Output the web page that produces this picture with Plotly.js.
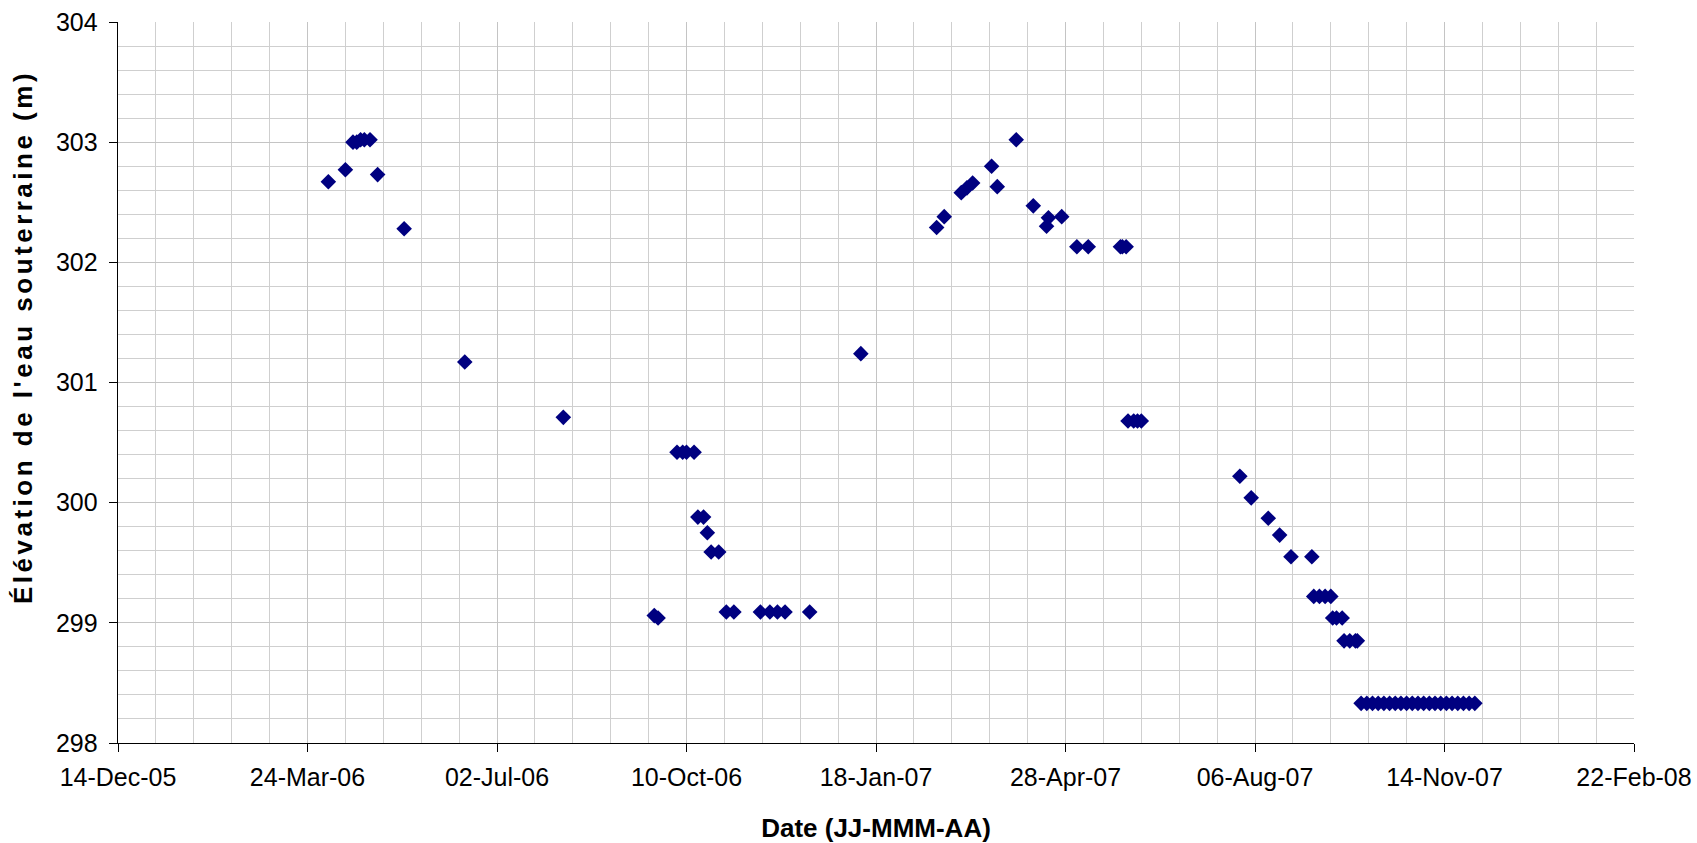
<!DOCTYPE html>
<html>
<head>
<meta charset="utf-8">
<script src="https://cdn.plot.ly/plotly-3.0.1.min.js"></script>
<style>
html,body{margin:0;padding:0;background:#fff;}
#chart{width:1697px;height:843px;}
.annotation-text{letter-spacing:3.5px;}
</style>
</head>
<body>
<div id="chart"></div>
<script>
// Measurement dates (groundwater level readings)
const dates2006 = [
  '2006-04-04','2006-04-13','2006-04-17','2006-04-19','2006-04-21','2006-04-23','2006-04-26',
  '2006-04-30','2006-05-14','2006-06-15','2006-08-06',
  '2006-09-23','2006-09-25','2006-10-05','2006-10-08','2006-10-10','2006-10-14',
  '2006-10-16','2006-10-19','2006-10-21','2006-10-23','2006-10-27',
  '2006-10-31','2006-11-04','2006-11-18','2006-11-23','2006-11-27','2006-12-01','2006-12-14'
];
const levels2006 = [
  302.67,302.77,303.00,303.00,303.02,303.02,303.02,
  302.73,302.28,301.17,300.71,
  299.06,299.04,300.42,300.42,300.42,300.42,
  299.88,299.88,299.75,299.59,299.59,
  299.09,299.09,299.09,299.09,299.09,299.09,299.09
];
const dates2007 = [
  '2007-01-10',
  '2007-02-19','2007-02-23','2007-03-04','2007-03-07','2007-03-10','2007-03-20','2007-03-23',
  '2007-04-02','2007-04-11','2007-04-18','2007-04-19','2007-04-26',
  '2007-05-04','2007-05-10','2007-05-27','2007-05-28','2007-05-30',
  '2007-05-31','2007-06-03','2007-06-05','2007-06-07',
  '2007-07-29','2007-08-04','2007-08-13','2007-08-19','2007-08-25','2007-09-05',
  '2007-09-06','2007-09-09','2007-09-12','2007-09-15',
  '2007-09-16','2007-09-18','2007-09-21',
  '2007-09-22','2007-09-25','2007-09-28','2007-09-29'
];
const levels2007 = [
  301.24,
  302.29,302.38,302.58,302.62,302.66,302.80,302.63,
  303.02,302.47,302.30,302.37,302.38,
  302.13,302.13,302.13,302.13,302.13,
  300.68,300.68,300.68,300.68,
  300.22,300.04,299.87,299.73,299.55,299.55,
  299.22,299.22,299.22,299.22,
  299.04,299.04,299.04,
  298.85,298.85,298.85,298.85
];
const datesLow = [
  '2007-10-01','2007-10-04','2007-10-07','2007-10-10','2007-10-13','2007-10-16','2007-10-19',
  '2007-10-22','2007-10-25','2007-10-28','2007-10-31','2007-11-03','2007-11-06','2007-11-09',
  '2007-11-12','2007-11-15','2007-11-18','2007-11-21','2007-11-24','2007-11-27','2007-11-30'
];
const levelsLow = [
  298.33,298.33,298.33,298.33,298.33,298.33,298.33,
  298.33,298.33,298.33,298.33,298.33,298.33,298.33,
  298.33,298.33,298.33,298.33,298.33,298.33,298.33
];

const xTitle = 'Date (JJ-MMM-AA)';
const yTitle = "Élévation de l'eau souterraine (m)";

const DAY = 86400000;
const font = 'Liberation Sans, Arial, Helvetica, sans-serif';

const trace = {
  x: dates2006.concat(dates2007, datesLow),
  y: levels2006.concat(levels2007, levelsLow),
  type: 'scatter',
  mode: 'markers',
  marker: {symbol: 'diamond', color: '#000080', size: 12, line: {width: 0}},
  hoverinfo: 'x+y'
};

const layout = {
  width: 1697, height: 843,
  margin: {l: 118, r: 63, t: 22, b: 100},
  paper_bgcolor: '#ffffff', plot_bgcolor: '#ffffff',
  showlegend: false,
  font: {family: font, size: 25, color: '#000'},
  xaxis: {
    type: 'date',
    range: ['2005-12-14', '2008-02-22'],
    tick0: '2005-12-14', dtick: 100 * DAY,
    tickformat: '%d-%b-%y',
    ticks: 'outside', ticklen: 8, tickwidth: 1, tickcolor: '#000',
    ticklabelstandoff: 4,
    showline: true, linecolor: '#000', linewidth: 1.3,
    showgrid: true, gridcolor: '#c4c4c4', gridwidth: 1,
    minor: {tick0: '2005-12-14', dtick: 20 * DAY, showgrid: true, gridcolor: '#cfcfcf', gridwidth: 1, ticks: ''},
    zeroline: false,
    tickfont: {family: font, size: 25, color: '#000'},
    title: {text: xTitle, font: {family: font, size: 26, color: '#000', weight: 'bold'}, standoff: 30}
  },
  yaxis: {
    range: [298, 304], dtick: 1, tick0: 298,
    ticks: 'outside', ticklen: 8, tickwidth: 1, tickcolor: '#000',
    ticklabelstandoff: 6,
    showline: true, linecolor: '#000', linewidth: 1.3,
    showgrid: true, gridcolor: '#c4c4c4', gridwidth: 1,
    minor: {tick0: 298, dtick: 0.2, showgrid: true, gridcolor: '#cfcfcf', gridwidth: 1, ticks: ''},
    zeroline: false,
    tickfont: {family: font, size: 25, color: '#000'}
  },
  annotations: [{
    text: yTitle,
    xref: 'paper', yref: 'paper',
    x: -0.0627, y: 0.563,
    xanchor: 'center', yanchor: 'middle',
    textangle: -90, showarrow: false,
    font: {family: font, size: 26, color: '#000', weight: 'bold'}
  }]
};

Plotly.newPlot('chart', [trace], layout, {staticPlot: true, displayModeBar: false});
</script>
</body>
</html>
